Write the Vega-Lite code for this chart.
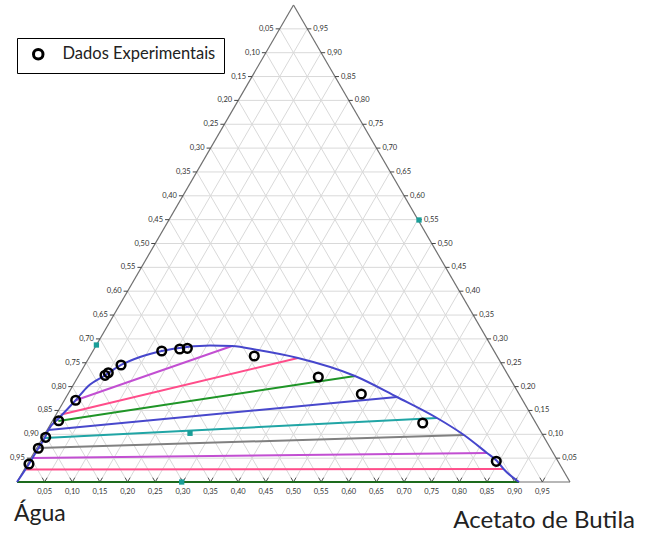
{
  "$schema": "https://vega.github.io/schema/vega-lite/v6.json",
  "width": 651,
  "height": 535,
  "padding": 0,
  "autosize": {"type": "none"},
  "background": "white",
  "config": {
    "view": {"stroke": null},
    "legend": {
      "orient": "none",
      "legendX": 17,
      "legendY": 38,
      "strokeColor": "black",
      "padding": 8,
      "labelFont": "Lato",
      "labelFontSize": 16.5,
      "labelColor": "#222",
      "labelOffset": 16,
      "symbolOffset": 5,
      "symbolType": "circle",
      "symbolStrokeColor": "black",
      "symbolFillColor": "white",
      "symbolStrokeWidth": 3,
      "symbolSize": 90
    }
  },
  "datasets": {
    "grade": [
      {"a1":0,"s1":0.05,"a2":0.95,"s2":0.05},{"a1":0,"s1":0.1,"a2":0.9,"s2":0.1},{"a1":0,"s1":0.15,"a2":0.85,"s2":0.15},
      {"a1":0,"s1":0.2,"a2":0.8,"s2":0.2},{"a1":0,"s1":0.25,"a2":0.75,"s2":0.25},{"a1":0,"s1":0.3,"a2":0.7,"s2":0.3},
      {"a1":0,"s1":0.35,"a2":0.65,"s2":0.35},{"a1":0,"s1":0.4,"a2":0.6,"s2":0.4},{"a1":0,"s1":0.45,"a2":0.55,"s2":0.45},
      {"a1":0,"s1":0.5,"a2":0.5,"s2":0.5},{"a1":0,"s1":0.55,"a2":0.45,"s2":0.55},{"a1":0,"s1":0.6,"a2":0.4,"s2":0.6},
      {"a1":0,"s1":0.65,"a2":0.35,"s2":0.65},{"a1":0,"s1":0.7,"a2":0.3,"s2":0.7},{"a1":0,"s1":0.75,"a2":0.25,"s2":0.75},
      {"a1":0,"s1":0.8,"a2":0.2,"s2":0.8},{"a1":0,"s1":0.85,"a2":0.15,"s2":0.85},{"a1":0,"s1":0.9,"a2":0.1,"s2":0.9},
      {"a1":0,"s1":0.95,"a2":0.05,"s2":0.95},
      {"a1":0.05,"s1":0,"a2":0.05,"s2":0.95},{"a1":0.1,"s1":0,"a2":0.1,"s2":0.9},{"a1":0.15,"s1":0,"a2":0.15,"s2":0.85},
      {"a1":0.2,"s1":0,"a2":0.2,"s2":0.8},{"a1":0.25,"s1":0,"a2":0.25,"s2":0.75},{"a1":0.3,"s1":0,"a2":0.3,"s2":0.7},
      {"a1":0.35,"s1":0,"a2":0.35,"s2":0.65},{"a1":0.4,"s1":0,"a2":0.4,"s2":0.6},{"a1":0.45,"s1":0,"a2":0.45,"s2":0.55},
      {"a1":0.5,"s1":0,"a2":0.5,"s2":0.5},{"a1":0.55,"s1":0,"a2":0.55,"s2":0.45},{"a1":0.6,"s1":0,"a2":0.6,"s2":0.4},
      {"a1":0.65,"s1":0,"a2":0.65,"s2":0.35},{"a1":0.7,"s1":0,"a2":0.7,"s2":0.3},{"a1":0.75,"s1":0,"a2":0.75,"s2":0.25},
      {"a1":0.8,"s1":0,"a2":0.8,"s2":0.2},{"a1":0.85,"s1":0,"a2":0.85,"s2":0.15},{"a1":0.9,"s1":0,"a2":0.9,"s2":0.1},
      {"a1":0.95,"s1":0,"a2":0.95,"s2":0.05},
      {"a1":0.05,"s1":0,"a2":0,"s2":0.05},{"a1":0.1,"s1":0,"a2":0,"s2":0.1},{"a1":0.15,"s1":0,"a2":0,"s2":0.15},
      {"a1":0.2,"s1":0,"a2":0,"s2":0.2},{"a1":0.25,"s1":0,"a2":0,"s2":0.25},{"a1":0.3,"s1":0,"a2":0,"s2":0.3},
      {"a1":0.35,"s1":0,"a2":0,"s2":0.35},{"a1":0.4,"s1":0,"a2":0,"s2":0.4},{"a1":0.45,"s1":0,"a2":0,"s2":0.45},
      {"a1":0.5,"s1":0,"a2":0,"s2":0.5},{"a1":0.55,"s1":0,"a2":0,"s2":0.55},{"a1":0.6,"s1":0,"a2":0,"s2":0.6},
      {"a1":0.65,"s1":0,"a2":0,"s2":0.65},{"a1":0.7,"s1":0,"a2":0,"s2":0.7},{"a1":0.75,"s1":0,"a2":0,"s2":0.75},
      {"a1":0.8,"s1":0,"a2":0,"s2":0.8},{"a1":0.85,"s1":0,"a2":0,"s2":0.85},{"a1":0.9,"s1":0,"a2":0,"s2":0.9},
      {"a1":0.95,"s1":0,"a2":0,"s2":0.95}
    ],
    "bordas": [
      {"a1":0,"s1":0,"a2":1,"s2":0},
      {"a1":0,"s1":0,"a2":0,"s2":1},
      {"a1":1,"s1":0,"a2":0,"s2":1}
    ],
    "rotulosAgua": [
      {"acetato":0,"soluto":0.95,"rotulo":"0,05"},{"acetato":0,"soluto":0.9,"rotulo":"0,10"},{"acetato":0,"soluto":0.85,"rotulo":"0,15"},
      {"acetato":0,"soluto":0.8,"rotulo":"0,20"},{"acetato":0,"soluto":0.75,"rotulo":"0,25"},{"acetato":0,"soluto":0.7,"rotulo":"0,30"},
      {"acetato":0,"soluto":0.65,"rotulo":"0,35"},{"acetato":0,"soluto":0.6,"rotulo":"0,40"},{"acetato":0,"soluto":0.55,"rotulo":"0,45"},
      {"acetato":0,"soluto":0.5,"rotulo":"0,50"},{"acetato":0,"soluto":0.45,"rotulo":"0,55"},{"acetato":0,"soluto":0.4,"rotulo":"0,60"},
      {"acetato":0,"soluto":0.35,"rotulo":"0,65"},{"acetato":0,"soluto":0.3,"rotulo":"0,70"},{"acetato":0,"soluto":0.25,"rotulo":"0,75"},
      {"acetato":0,"soluto":0.2,"rotulo":"0,80"},{"acetato":0,"soluto":0.15,"rotulo":"0,85"},{"acetato":0,"soluto":0.1,"rotulo":"0,90"},
      {"acetato":0,"soluto":0.05,"rotulo":"0,95"}
    ],
    "rotulosSoluto": [
      {"acetato":0.05,"soluto":0.95,"rotulo":"0,95"},{"acetato":0.1,"soluto":0.9,"rotulo":"0,90"},{"acetato":0.15,"soluto":0.85,"rotulo":"0,85"},
      {"acetato":0.2,"soluto":0.8,"rotulo":"0,80"},{"acetato":0.25,"soluto":0.75,"rotulo":"0,75"},{"acetato":0.3,"soluto":0.7,"rotulo":"0,70"},
      {"acetato":0.35,"soluto":0.65,"rotulo":"0,65"},{"acetato":0.4,"soluto":0.6,"rotulo":"0,60"},{"acetato":0.45,"soluto":0.55,"rotulo":"0,55"},
      {"acetato":0.5,"soluto":0.5,"rotulo":"0,50"},{"acetato":0.55,"soluto":0.45,"rotulo":"0,45"},{"acetato":0.6,"soluto":0.4,"rotulo":"0,40"},
      {"acetato":0.65,"soluto":0.35,"rotulo":"0,35"},{"acetato":0.7,"soluto":0.3,"rotulo":"0,30"},{"acetato":0.75,"soluto":0.25,"rotulo":"0,25"},
      {"acetato":0.8,"soluto":0.2,"rotulo":"0,20"},{"acetato":0.85,"soluto":0.15,"rotulo":"0,15"},{"acetato":0.9,"soluto":0.1,"rotulo":"0,10"},
      {"acetato":0.95,"soluto":0.05,"rotulo":"0,05"}
    ],
    "rotulosAcetato": [
      {"acetato":0.05,"soluto":0,"rotulo":"0,05"},{"acetato":0.1,"soluto":0,"rotulo":"0,10"},{"acetato":0.15,"soluto":0,"rotulo":"0,15"},
      {"acetato":0.2,"soluto":0,"rotulo":"0,20"},{"acetato":0.25,"soluto":0,"rotulo":"0,25"},{"acetato":0.3,"soluto":0,"rotulo":"0,30"},
      {"acetato":0.35,"soluto":0,"rotulo":"0,35"},{"acetato":0.4,"soluto":0,"rotulo":"0,40"},{"acetato":0.45,"soluto":0,"rotulo":"0,45"},
      {"acetato":0.5,"soluto":0,"rotulo":"0,50"},{"acetato":0.55,"soluto":0,"rotulo":"0,55"},{"acetato":0.6,"soluto":0,"rotulo":"0,60"},
      {"acetato":0.65,"soluto":0,"rotulo":"0,65"},{"acetato":0.7,"soluto":0,"rotulo":"0,70"},{"acetato":0.75,"soluto":0,"rotulo":"0,75"},
      {"acetato":0.8,"soluto":0,"rotulo":"0,80"},{"acetato":0.85,"soluto":0,"rotulo":"0,85"},{"acetato":0.9,"soluto":0,"rotulo":"0,90"},
      {"acetato":0.95,"soluto":0,"rotulo":"0,95"}
    ],
    "binodal": [
      {"acetato":0,"soluto":0},
      {"acetato":0.0028,"soluto":0.0377},
      {"acetato":0.0032,"soluto":0.0707},
      {"acetato":0.0038,"soluto":0.0937},
      {"acetato":0.0021,"soluto":0.109},
      {"acetato":0.0085,"soluto":0.1331},
      {"acetato":0.0205,"soluto":0.1713},
      {"acetato":0.0283,"soluto":0.2013},
      {"acetato":0.0473,"soluto":0.2237},
      {"acetato":0.0655,"soluto":0.2453},
      {"acetato":0.0914,"soluto":0.2621},
      {"acetato":0.1244,"soluto":0.2746},
      {"acetato":0.1659,"soluto":0.283},
      {"acetato":0.2059,"soluto":0.2862},
      {"acetato":0.2462,"soluto":0.2851},
      {"acetato":0.2974,"soluto":0.2767},
      {"acetato":0.3781,"soluto":0.26},
      {"acetato":0.5001,"soluto":0.2222},
      {"acetato":0.5981,"soluto":0.1782},
      {"acetato":0.6924,"soluto":0.1342},
      {"acetato":0.759,"soluto":0.0985},
      {"acetato":0.8195,"soluto":0.0608},
      {"acetato":0.846,"soluto":0.044},
      {"acetato":0.8662,"soluto":0.0273},
      {"acetato":0.9078,"soluto":0}
    ],
    "amarracao": [
      {"linha":1,"a1":0,"s1":0,"a2":0.9078,"s2":0},
      {"linha":2,"a1":0.003,"s1":0.0262,"a2":0.8662,"s2":0.0273},
      {"linha":3,"a1":0.0025,"s1":0.0503,"a2":0.8195,"s2":0.0608},
      {"linha":4,"a1":0.003,"s1":0.0713,"a2":0.759,"s2":0.0985},
      {"linha":5,"a1":0.004,"s1":0.0922,"a2":0.6924,"s2":0.1342},
      {"linha":6,"a1":0.0021,"s1":0.109,"a2":0.5981,"s2":0.1782},
      {"linha":7,"a1":0.0108,"s1":0.1279,"a2":0.5001,"s2":0.2222},
      {"linha":8,"a1":0.0095,"s1":0.1415,"a2":0.3781,"s2":0.26},
      {"linha":9,"a1":0.0205,"s1":0.1713,"a2":0.2462,"s2":0.2851}
    ],
    "experimentais": [
      {"acetato":0.0028,"soluto":0.0377},
      {"acetato":0.0032,"soluto":0.0707},
      {"acetato":0.005,"soluto":0.0937},
      {"acetato":0.0111,"soluto":0.1285},
      {"acetato":0.0205,"soluto":0.1713},
      {"acetato":0.0473,"soluto":0.2237},
      {"acetato":0.0505,"soluto":0.2291},
      {"acetato":0.0655,"soluto":0.2453},
      {"acetato":0.1244,"soluto":0.2746},
      {"acetato":0.1548,"soluto":0.2788},
      {"acetato":0.1679,"soluto":0.2803},
      {"acetato":0.297,"soluto":0.2642},
      {"acetato":0.4348,"soluto":0.2201},
      {"acetato":0.5304,"soluto":0.1845},
      {"acetato":0.6718,"soluto":0.1237},
      {"acetato":0.845,"soluto":0.0434}
    ],
    "marcadores": [
      {"acetato":0,"soluto":0.2872},
      {"acetato":0.4523,"soluto":0.5493},
      {"acetato":0.2618,"soluto":0.1021},
      {"acetato":0.2978,"soluto":0}
    ],
    "vertices": [
      {"acetato":0,"soluto":0,"nome":"Água"},
      {"acetato":1,"soluto":0,"nome":"Acetato de Butila"}
    ]
  },
  "encoding": {
    "x": {"field": "x", "type": "quantitative", "axis": null,
          "scale": {"domain": [-0.030741, 1.146474], "nice": false, "zero": false}},
    "y": {"field": "y", "type": "quantitative", "axis": null,
          "scale": {"domain": [-0.096225, 0.875108], "nice": false, "zero": false}}
  },
  "layer": [
    {
      "data": {"name": "grade"},
      "transform": [
        {"calculate": "datum.a1 + datum.s1 / 2", "as": "x"},
        {"calculate": "datum.s1 * 0.8660254", "as": "y"},
        {"calculate": "datum.a2 + datum.s2 / 2", "as": "x2"},
        {"calculate": "datum.s2 * 0.8660254", "as": "y2"}
      ],
      "mark": {"type": "rule", "color": "#d9d9d9", "strokeWidth": 1},
      "encoding": {"x2": {"field": "x2"}, "y2": {"field": "y2"}}
    },
    {
      "data": {"name": "bordas"},
      "transform": [
        {"calculate": "datum.a1 + datum.s1 / 2", "as": "x"},
        {"calculate": "datum.s1 * 0.8660254", "as": "y"},
        {"calculate": "datum.a2 + datum.s2 / 2", "as": "x2"},
        {"calculate": "datum.s2 * 0.8660254", "as": "y2"}
      ],
      "mark": {"type": "rule", "color": "#707070", "strokeWidth": 1.2},
      "encoding": {"x2": {"field": "x2"}, "y2": {"field": "y2"}}
    },
    {
      "data": {"name": "rotulosAgua"},
      "transform": [
        {"calculate": "datum.acetato + datum.soluto / 2", "as": "x"},
        {"calculate": "datum.soluto * 0.8660254", "as": "y"}
      ],
      "mark": {"type": "point", "shape": "M-1,0L0,0", "size": 64, "filled": false, "stroke": "#444", "strokeWidth": 1, "opacity": 1}
    },
    {
      "data": {"name": "rotulosAgua"},
      "transform": [
        {"calculate": "datum.acetato + datum.soluto / 2", "as": "x"},
        {"calculate": "datum.soluto * 0.8660254", "as": "y"}
      ],
      "mark": {"type": "text", "align": "right", "baseline": "middle", "dx": -6, "font": "Lato", "fontSize": 7.5, "color": "#333"},
      "encoding": {"text": {"field": "rotulo"}}
    },
    {
      "data": {"name": "rotulosSoluto"},
      "transform": [
        {"calculate": "datum.acetato + datum.soluto / 2", "as": "x"},
        {"calculate": "datum.soluto * 0.8660254", "as": "y"}
      ],
      "mark": {"type": "point", "shape": "M0,0L1,0", "size": 64, "filled": false, "stroke": "#444", "strokeWidth": 1, "opacity": 1}
    },
    {
      "data": {"name": "rotulosSoluto"},
      "transform": [
        {"calculate": "datum.acetato + datum.soluto / 2", "as": "x"},
        {"calculate": "datum.soluto * 0.8660254", "as": "y"}
      ],
      "mark": {"type": "text", "align": "left", "baseline": "middle", "dx": 6, "font": "Lato", "fontSize": 7.5, "color": "#333"},
      "encoding": {"text": {"field": "rotulo"}}
    },
    {
      "data": {"name": "rotulosAcetato"},
      "transform": [
        {"calculate": "datum.acetato + datum.soluto / 2", "as": "x"},
        {"calculate": "datum.soluto * 0.8660254", "as": "y"}
      ],
      "mark": {"type": "point", "shape": "M-0.5,-0.866L0,0L0.5,-0.866", "size": 100, "filled": false, "stroke": "#555", "strokeWidth": 1, "opacity": 1}
    },
    {
      "data": {"name": "rotulosAcetato"},
      "transform": [
        {"calculate": "datum.acetato + datum.soluto / 2", "as": "x"},
        {"calculate": "datum.soluto * 0.8660254", "as": "y"}
      ],
      "mark": {"type": "text", "align": "center", "baseline": "middle", "dy": 10, "font": "Lato", "fontSize": 7.5, "color": "#333"},
      "encoding": {"text": {"field": "rotulo"}}
    },
    {
      "data": {"name": "amarracao"},
      "transform": [
        {"calculate": "datum.a1 + datum.s1 / 2", "as": "x"},
        {"calculate": "datum.s1 * 0.8660254", "as": "y"},
        {"calculate": "datum.a2 + datum.s2 / 2", "as": "x2"},
        {"calculate": "datum.s2 * 0.8660254", "as": "y2"}
      ],
      "mark": {"type": "rule", "strokeWidth": 2},
      "encoding": {
        "x2": {"field": "x2"},
        "y2": {"field": "y2"},
        "color": {
          "field": "linha", "type": "nominal", "legend": null,
          "scale": {
            "domain": [1, 2, 3, 4, 5, 6, 7, 8, 9],
            "range": ["#1d6b1d", "#ff4d8a", "#c24fd2", "#808080", "#20a5a5", "#4848cc", "#1f9527", "#ff4d8a", "#c24fd2"]
          }
        }
      }
    },
    {
      "data": {"name": "binodal"},
      "transform": [
        {"calculate": "datum.acetato + datum.soluto / 2", "as": "x"},
        {"calculate": "datum.soluto * 0.8660254", "as": "y"}
      ],
      "mark": {"type": "line", "color": "#4646cc", "strokeWidth": 2, "interpolate": "monotone"},
      "encoding": {}
    },
    {
      "data": {"name": "marcadores"},
      "transform": [
        {"calculate": "datum.acetato + datum.soluto / 2", "as": "x"},
        {"calculate": "datum.soluto * 0.8660254", "as": "y"}
      ],
      "mark": {"type": "point", "shape": "square", "size": 28, "filled": true, "color": "#1a9e98", "opacity": 1}
    },
    {
      "data": {"name": "experimentais"},
      "transform": [
        {"calculate": "datum.acetato + datum.soluto / 2", "as": "x"},
        {"calculate": "datum.soluto * 0.8660254", "as": "y"}
      ],
      "mark": {"type": "point", "filled": false, "stroke": "black", "strokeWidth": 2.5, "size": 75, "opacity": 1},
      "encoding": {
        "shape": {
          "datum": "Dados Experimentais",
          "scale": {"range": ["circle"]},
          "legend": {"title": null}
        }
      }
    },
    {
      "data": {"name": "vertices"},
      "transform": [
        {"filter": "datum.acetato == 0"},
        {"calculate": "datum.acetato + datum.soluto / 2", "as": "x"},
        {"calculate": "datum.soluto * 0.8660254", "as": "y"}
      ],
      "mark": {"type": "text", "align": "left", "baseline": "alphabetic", "dx": -3, "dy": 39, "font": "Lato", "fontSize": 23, "color": "#222"},
      "encoding": {"text": {"field": "nome"}}
    },
    {
      "data": {"name": "vertices"},
      "transform": [
        {"filter": "datum.acetato == 1"},
        {"calculate": "datum.acetato + datum.soluto / 2", "as": "x"},
        {"calculate": "datum.soluto * 0.8660254", "as": "y"}
      ],
      "mark": {"type": "text", "align": "right", "baseline": "alphabetic", "dx": 65, "dy": 46, "font": "Lato", "fontSize": 24, "color": "#222"},
      "encoding": {"text": {"field": "nome"}}
    }
  ]
}
